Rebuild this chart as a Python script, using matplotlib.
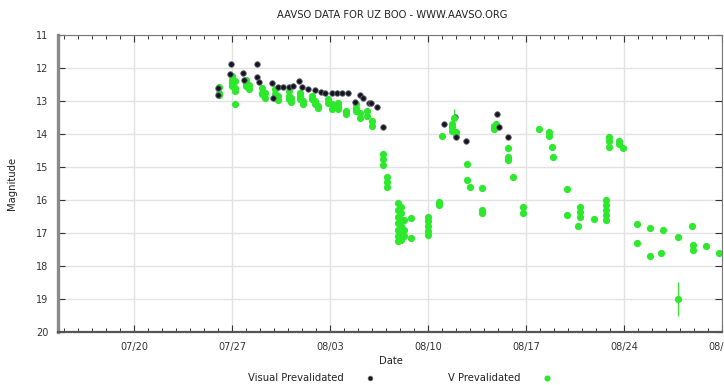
import numpy as np
import matplotlib
matplotlib.use("Agg")
import matplotlib.pyplot as plt
import matplotlib.dates as mdates
from matplotlib.lines import Line2D

plt.rcParams['font.family'] = ['DejaVu Sans']

# Days are counted from 2013-06-30 (so 27 = Jul 27, 32 = Aug 1)
vis_day = [26.0, 26.0, 26.93, 26.86, 27.79, 27.86, 28.79, 28.79, 28.93, 29.86,
           29.93, 30.29, 30.64, 31.07, 31.36, 31.79, 32.0, 32.43, 32.93, 33.36,
           33.64, 34.14, 34.5, 34.86, 35.29, 35.79, 36.14, 36.36, 36.79, 36.93,
           37.36, 37.79, 42.14, 42.93, 43.0, 43.71, 45.93, 46.07, 46.71]
vis_mag = [12.61, 12.82, 11.88, 12.18, 12.15, 12.36, 11.88, 12.27, 12.42, 12.45,
           12.91, 12.58, 12.58, 12.58, 12.55, 12.39, 12.58, 12.64, 12.67, 12.73,
           12.76, 12.76, 12.76, 12.76, 12.76, 13.03, 12.82, 12.91, 13.06, 13.06,
           13.18, 13.79, 13.70, 13.48, 14.09, 14.21, 13.39, 13.79, 14.09]

v_day = [26.07, 26.07, 26.07,
         27.0, 27.0, 27.0, 27.0, 27.21, 27.21, 27.21, 27.21,
         28.0, 28.0, 28.0, 28.21, 28.21,
         29.14, 29.14, 29.14, 29.36, 29.36,
         30.07, 30.07, 30.07, 30.29, 30.29,
         31.07, 31.07, 31.07, 31.21, 31.21,
         31.86, 31.86, 31.86, 32.07, 32.07,
         32.71, 32.71, 32.93, 32.93, 33.14, 33.14,
         33.86, 33.86, 34.14, 34.14,
         34.57, 34.57, 34.57, 35.14, 35.14,
         35.86, 35.86, 35.86, 36.14, 36.14,
         36.64, 36.64, 37.0, 37.0,
         37.79, 37.79, 37.79, 38.07, 38.07, 38.07,
         38.86, 38.86, 38.86, 38.86, 38.86, 38.86, 38.86,
         39.07, 39.07, 39.07, 39.07, 39.07, 39.07,
         39.29, 39.29, 39.29, 39.79, 39.79,
         41.0, 41.0, 41.0, 41.0, 41.0, 41.79, 41.79,
         42.0, 42.71, 42.71, 42.71, 43.0, 43.0,
         43.79, 43.79, 44.0, 44.86, 44.86, 44.86,
         45.71, 45.71, 45.86, 45.86,
         46.71, 46.71, 46.71, 47.07, 47.79, 47.79,
         48.93, 49.64, 49.64, 49.86, 49.93,
         50.93, 50.93, 51.71, 51.86, 51.86, 51.86, 52.86,
         53.71, 53.71, 53.71, 53.71, 53.71, 53.93, 53.93, 53.93,
         54.64, 54.64, 54.93,
         55.93, 55.93, 56.86, 56.86, 57.64, 57.79,
         58.86, 59.86, 59.93, 59.93, 60.86, 61.79]
v_mag = [12.58, 12.75, 12.82,
         12.25, 12.35, 12.45, 12.55, 12.4, 12.6, 12.7, 13.1,
         12.35, 12.45, 12.55, 12.5, 12.65,
         12.6, 12.75, 12.8, 12.75, 12.9,
         12.65, 12.8, 12.9, 12.85, 12.97,
         12.7, 12.85, 12.95, 12.9, 13.03,
         12.75, 12.85, 12.95, 13.0, 13.1,
         12.85, 12.95, 13.0, 13.1, 13.15, 13.2,
         12.95, 13.05, 13.1, 13.25,
         13.05, 13.15, 13.25, 13.3, 13.4,
         13.1, 13.2, 13.3, 13.35, 13.5,
         13.3, 13.45, 13.6, 13.75,
         14.6, 14.75, 14.95, 15.3, 15.45, 15.6,
         16.1, 16.3, 16.5, 16.7, 16.9, 17.1, 17.25,
         16.2, 16.4, 16.6, 16.8, 17.0, 17.2,
         16.6, 16.9, 17.1, 16.55, 17.15,
         16.5, 16.65, 16.8, 16.95, 17.05, 16.05, 16.15,
         14.05, 13.7, 13.8, 13.9, 13.95, 14.05,
         14.9, 15.4, 15.6, 15.64, 16.3, 16.4,
         13.75, 13.85, 13.7, 13.8,
         14.42, 14.7, 14.8, 15.3, 16.2, 16.4,
         13.85, 13.95, 14.05, 14.4, 14.7,
         15.67, 16.45, 16.8, 16.2, 16.35, 16.5, 16.58,
         16.0, 16.15, 16.3, 16.45, 16.6, 14.1, 14.2, 14.4,
         14.2, 14.3, 14.42,
         16.73, 17.3, 16.85, 17.7, 17.6, 16.9,
         17.12, 16.8, 17.36, 17.5, 17.4, 17.6]

# V points that carry an uncertainty bar
verr_day = [42.86, 58.86]
verr_mag = [13.5, 19.0]
verr = [0.25, 0.53]

base = mdates.date2num(np.datetime64('2013-06-30'))
green = '#2ee82e'
dark = '#15151f'

fig = plt.figure(figsize=(7.24, 3.85), dpi=100)
ax = fig.add_axes([58 / 724, 1 - 332 / 385, 664 / 724, 297 / 385])

ax.errorbar(base + np.array(verr_day), verr_mag, yerr=verr, fmt='o',
            color=green, ms=5.2, mec='none', elinewidth=0.8, capsize=0)
ax.plot(base + np.array(v_day), v_mag, 'o', color=green, ms=5.2, mec='none')
ax.plot(base + np.array(vis_day), vis_mag, 'o', color=dark, ms=4.0,
        mec='#6a6a78', mew=0.6)

ax.set_xlim(base + 14.57, base + 62.0)
ax.set_ylim(20, 11)
ax.set_yticks(range(11, 21))

ax.xaxis.set_major_locator(mdates.WeekdayLocator(byweekday=mdates.SA))
ax.xaxis.set_minor_locator(mdates.DayLocator())
ax.xaxis.set_major_formatter(mdates.DateFormatter('%m/%d'))

ax.grid(True, which='major', color='#e2e2e2', lw=1.0)
ax.set_axisbelow(True)
ax.tick_params(which='both', direction='in', top=True, right=True,
               labelsize=7, colors='#333333')
ax.tick_params(which='major', length=5, width=0.8, pad=7)
ax.tick_params(which='minor', length=3, width=0.7)

for side in ['top', 'right']:
    ax.spines[side].set_color('#777777')
    ax.spines[side].set_linewidth(0.8)
ax.spines['left'].set_color('#8a8a8a')
ax.spines['left'].set_linewidth(2.4)
ax.spines['bottom'].set_color('#555555')
ax.spines['bottom'].set_linewidth(1.6)

fs = 7.2
fig.text(392 / 724, 1 - 15 / 385, 'AAVSO DATA FOR UZ BOO - WWW.AAVSO.ORG',
         ha='center', va='center', fontsize=fs, color='#222222')
fig.text(391 / 724, 1 - 361 / 385, 'Date', ha='center', va='center',
         fontsize=fs, color='#222222')
fig.text(12 / 724, 1 - 183 / 385, 'Magnitude', ha='center', va='center',
         rotation=90, fontsize=fs, color='#222222')

# legend row under the axes
fig.text(296 / 724, 1 - 378 / 385, 'Visual Prevalidated', ha='center',
         va='center', fontsize=fs, color='#222222')
fig.text(484 / 724, 1 - 378 / 385, 'V Prevalidated', ha='center',
         va='center', fontsize=fs, color='#222222')
fig.add_artist(Line2D([370 / 724], [1 - 378 / 385], transform=fig.transFigure,
                      marker='o', color=dark, ms=3.4, mec='#6a6a78', mew=0.5))
fig.add_artist(Line2D([547 / 724], [1 - 378 / 385], transform=fig.transFigure,
                      marker='o', color=green, ms=4.4, mec='none'))

fig.savefig('out.png', dpi=100)
